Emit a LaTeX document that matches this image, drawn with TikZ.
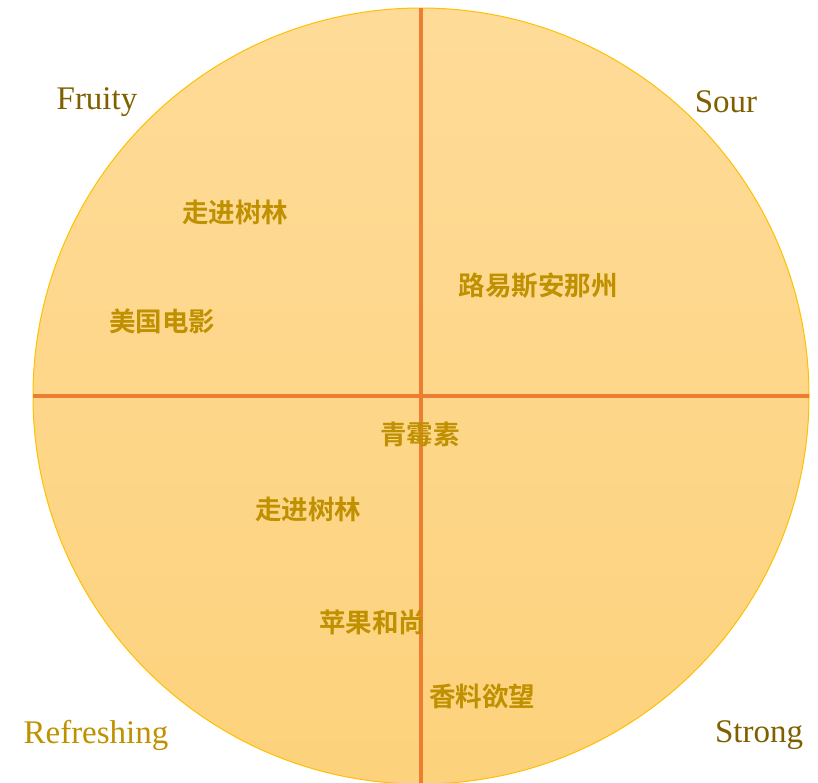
\documentclass[tikz,border=0pt]{standalone}
\usepackage{fontspec}
\setmainfont{Liberation Serif}
\newfontfamily\cjk{Noto Sans CJK SC}[BoldFont={Noto Sans CJK SC Bold}]
\definecolor{fillTop}{HTML}{FEDB98}
\definecolor{fillBot}{HTML}{FDD27C}
\definecolor{rimC}{HTML}{FFC000}
\definecolor{axisC}{HTML}{ED7D31}
\definecolor{darkLbl}{HTML}{7F6000}
\definecolor{goldLbl}{HTML}{BF9000}
\tikzset{
  corner/.style={font=\fontsize{33}{33}\selectfont, inner sep=0pt, anchor=center},
  item/.style={font=\cjk\bfseries\fontsize{26.5}{26.5}\selectfont, text=goldLbl, inner sep=0pt, anchor=center},
  axis/.style={draw=axisC, line width=3.3pt}
}
\begin{document}
\begin{tikzpicture}[x=1pt,y=-1pt]
\useasboundingbox (0,0) rectangle (818,782);
\begin{scope}
\clip (0,0) rectangle (818,782);
\shade[top color=fillTop, bottom color=fillBot] (421,396) circle (388);
\draw[rimC, line width=1pt] (421,396) circle (388);
\coordinate (ctr) at (421,396);
\coordinate (top) at (421,8);
\coordinate (bot) at (421,784);
\coordinate (lft) at (33,396);
\coordinate (rgt) at (809,396);
\draw[axis] (top) -- (bot);
\draw[axis] (lft) -- (rgt);
\end{scope}
\node[corner, text=darkLbl] (fruity) at (97,102) {Fruity};
\node[corner, text=darkLbl] (sour) at (726,102) {Sour};
\node[corner, text=goldLbl] (refr) at (96,735) {Refreshing};
\node[corner, text=darkLbl] (strong) at (759,735) {Strong};
\node[item] (a) at (235,212) {走进树林};
\node[item] (b) at (162,321) {美国电影};
\node[item] (c) at (538,286) {路易斯安那州};
\node[item] (d) at (420,434) {青霉素};
\node[item] (e) at (308,509) {走进树林};
\node[item] (f) at (372,622) {苹果和尚};
\node[item] (g) at (482,696) {香料欲望};
\end{tikzpicture}
\end{document}
